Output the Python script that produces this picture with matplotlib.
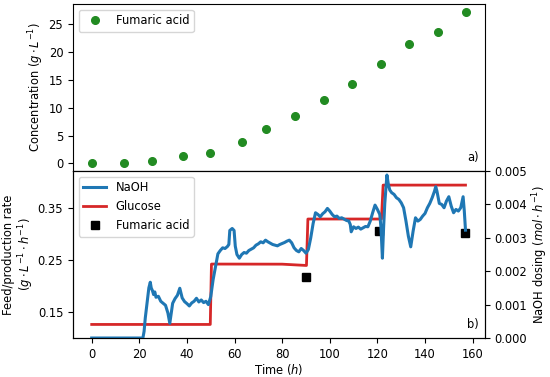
import matplotlib
matplotlib.use("Agg")
import matplotlib.pyplot as plt

plt.rcParams['font.size'] = 8.3

# fumaric acid concentration (top panel)
t_fa = [0, 13.6, 25.5, 38.3, 49.6, 63, 73.4, 85.5, 97.5, 109.3, 121.4, 133.3, 145.4, 157.3]
fa_conc = [0.0, 0.1, 0.5, 1.4, 1.9, 3.9, 6.2, 8.5, 11.3, 14.3, 17.8, 21.4, 23.5, 27.2]

# glucose feed (step profile)
t_glc = [0, 49.8, 50.3, 80, 90.2, 90.8, 121.7, 122.4, 157]
glc = [0.126, 0.126, 0.2417, 0.2415, 0.239, 0.328, 0.328, 0.393, 0.393]

# fumaric acid production rate
t_fa_rate = [90, 120.5, 157]
fa_rate = [0.216, 0.305, 0.302]

# NaOH dosing (mol/h)
t_naoh = [0, 5, 10, 15, 20, 21.5, 22, 22.5, 23, 23.5, 24, 24.6, 25, 25.5, 26, 26.5, 27, 28, 29, 30,
          31, 32, 32.8, 33.3, 34, 35, 36, 37, 37.5, 38, 39, 40, 41, 42, 43, 44, 45, 46, 47, 48,
          49, 50, 51, 52, 53, 54, 55, 56, 57, 57.6, 58, 59, 59.8, 60.3, 61, 62, 63, 64, 65, 66,
          67, 68, 69, 70, 71, 72, 73, 74, 75, 76, 77, 78, 79, 80, 81, 82, 83, 84, 85, 86,
          87, 88, 89, 90, 91, 92, 93, 94, 95, 96, 97, 98, 99, 100, 101, 102, 103, 104, 105, 106,
          107, 108, 108.6, 109, 110, 111, 112, 113, 114, 115, 116, 117, 118, 119, 120, 121, 121.5, 122.1, 122.6, 123.1,
          124, 124.6, 125.2, 126, 127, 128, 129, 130, 131, 132, 133, 134, 135, 136, 137, 138, 139, 140, 141, 142,
          143, 144, 144.5, 145, 146, 147, 148, 149, 150, 151, 152, 153, 154, 155, 156, 156.5, 157]
naoh = [0.0, 0.0, 0.0, 0.0, 0.0, 0.0, 0.0002, 0.0006, 0.0009, 0.0012, 0.0015, 0.00167, 0.00150, 0.00142, 0.00130, 0.00138, 0.00122, 0.00125, 0.00110, 0.00104,
        0.00098, 0.00075, 0.00044, 0.00070, 0.00104, 0.00118, 0.00128, 0.00149, 0.00135, 0.00120, 0.00109, 0.00103, 0.00096, 0.00105, 0.00110, 0.00119, 0.00108, 0.00114, 0.00106, 0.00110,
        0.00100, 0.00124, 0.00175, 0.00214, 0.00252, 0.00262, 0.00270, 0.00268, 0.00274, 0.00280, 0.00322, 0.00328, 0.00322, 0.00275, 0.00250, 0.00239, 0.00250, 0.00256, 0.00254, 0.00262,
        0.00266, 0.00270, 0.00278, 0.00282, 0.00288, 0.00285, 0.00293, 0.00288, 0.00284, 0.00280, 0.00278, 0.00276, 0.00280, 0.00283, 0.00286, 0.00290, 0.00293, 0.00285, 0.00270, 0.00262,
        0.00258, 0.00268, 0.00262, 0.00254, 0.00265, 0.00300, 0.00343, 0.00375, 0.00370, 0.00363, 0.00372, 0.00378, 0.00388, 0.00380, 0.00370, 0.00363, 0.00365, 0.00358, 0.00360, 0.00356,
        0.00352, 0.00350, 0.00340, 0.00318, 0.00333, 0.00328, 0.00332, 0.00326, 0.00330, 0.00334, 0.00333, 0.00350, 0.00375, 0.00398, 0.00385, 0.00370, 0.00330, 0.00239, 0.00330, 0.00403,
        0.00488, 0.00460, 0.00443, 0.00435, 0.00430, 0.00420, 0.00415, 0.00405, 0.00390, 0.00350, 0.00305, 0.00273, 0.00320, 0.00360, 0.00350, 0.00355, 0.00365, 0.00373, 0.00390, 0.00403,
        0.00420, 0.00440, 0.00453, 0.00440, 0.00403, 0.00400, 0.00390, 0.00410, 0.00423, 0.00395, 0.00375, 0.00385, 0.00380, 0.00390, 0.00423, 0.00380, 0.00323]

fig = plt.figure(figsize=(5.5, 3.77), dpi=100)
ax1 = fig.add_axes([0.1327, 0.5464, 0.749, 0.443])
ax2 = fig.add_axes([0.1327, 0.1034, 0.749, 0.443], sharex=ax1)

# top panel
ax1.plot(t_fa, fa_conc, 'o', color='#228B22', markersize=5.5, label='Fumaric acid')
ax1.set_ylabel(r'Concentration ($g\cdot L^{-1}$)', labelpad=2)
ax1.set_yticks([0, 5, 10, 15, 20, 25])
ax1.legend(loc='upper left')
ax1.text(0.985, 0.04, 'a)', transform=ax1.transAxes, ha='right', va='bottom')
ax1.tick_params(labelbottom=False, bottom=False)

# bottom panel
l_glc, = ax2.plot(t_glc, glc, color='#d62728', linewidth=2, label='Glucose')
l_fa, = ax2.plot(t_fa_rate, fa_rate, 's', color='black', markersize=5.5, label='Fumaric acid')
ax2.set_ylim(0.1, 0.42)
ax2.set_yticks([0.15, 0.25, 0.35])
ax2.set_ylabel('Feed/production rate\n' + r'($g\cdot L^{-1}\cdot h^{-1}$)', labelpad=1, linespacing=1.1)
ax2.set_xlabel(r'Time ($h$)', labelpad=1)
ax2.set_xticks([0, 20, 40, 60, 80, 100, 120, 140, 160])

ax3 = ax2.twinx()
l_naoh, = ax3.plot(t_naoh, naoh, color='#1f77b4', linewidth=2.2, label='NaOH')
ax3.set_ylim(0, 0.005)
ax3.set_ylabel(r'NaOH dosing ($mol\cdot h^{-1}$)', labelpad=2)
ax2.legend([l_naoh, l_glc, l_fa], ['NaOH', 'Glucose', 'Fumaric acid'], loc='upper left')
ax2.text(0.985, 0.04, 'b)', transform=ax2.transAxes, ha='right', va='bottom')

fig.savefig('out.png', dpi=100)
